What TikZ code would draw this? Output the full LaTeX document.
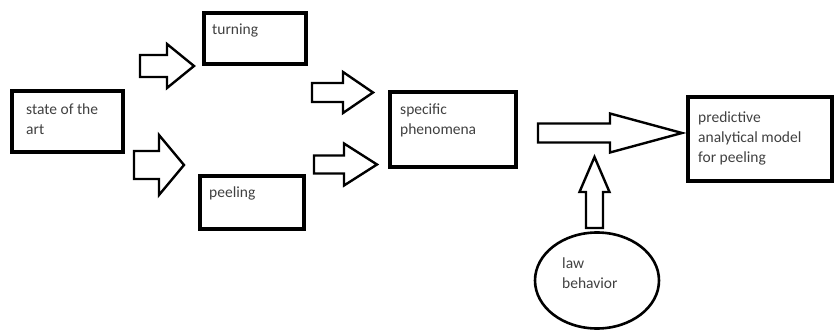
\documentclass[tikz,border=0pt]{standalone}
\usepackage{fontspec}
\setmainfont{Carlito}
\usetikzlibrary{calc,shapes.geometric}
% right-pointing block arrow: x0, xb, xt, c, t, h
\newcommand\blkR[6]{\draw[barrow] (#1,#4-#5) -- (#2,#4-#5) -- (#2,#4-#6) -- (#3,#4) -- (#2,#4+#6) -- (#2,#4+#5) -- (#1,#4+#5) -- cycle;}
% up-pointing block arrow: y0, yb, yt, c, t, h
\newcommand\blkU[6]{\draw[barrow] (#4-#5,#1) -- (#4-#5,#2) -- (#4-#6,#2) -- (#4,#3) -- (#4+#6,#2) -- (#4+#5,#2) -- (#4+#5,#1) -- cycle;}
\begin{document}
\begin{tikzpicture}[x=1pt,y=-1pt,
  box/.style={draw, line width=3.2pt, rectangle, inner sep=0pt},
  oval/.style={draw, line width=2.6pt, ellipse, inner sep=0pt},
  barrow/.style={draw, line width=2.4pt, line join=miter},
  lbl/.style={font=\fontsize{15.5}{20}\selectfont, text=black!75, align=left, anchor=base west, inner sep=0pt}]
\useasboundingbox (0,0) rectangle (835,331);
% boxes
\node[box, minimum width=111pt, minimum height=61pt] (sota) at (67.5,121.5) {};
\node[box, minimum width=102pt, minimum height=51pt] (turn) at (255,38.5) {};
\node[box, minimum width=104pt, minimum height=53pt] (peel) at (252,202.5) {};
\node[box, minimum width=126pt, minimum height=75pt] (spec) at (453,129.5) {};
\node[box, minimum width=144pt, minimum height=84pt] (pred) at (760,139) {};
\node[oval, minimum width=124pt, minimum height=96pt] (law) at (597,280.5) {};
% labels (base = baseline of last line)
\node[lbl] (tsota) at (26,135) {state of the\\art};
\node[lbl] (tturn) at (212,35) {turning};
\node[lbl] (tpeel) at (209,198) {peeling};
\node[lbl] (tspec) at (400,135) {specific\\phenomena};
\node[lbl] (tpred) at (698,163) {predictive\\analytical model\\for peeling};
\node[lbl] (tlaw) at (562,288) {law\\behavior};
% block arrows
\blkR{140}{167}{194}{66}{11}{22}
\blkR{134}{159}{184}{165}{14}{30}
\blkR{312}{343}{373}{92.5}{9.5}{20.5}
\blkR{314}{344}{377}{164.5}{9}{21}
\blkR{538}{610}{682}{133}{9.5}{19.5}
\blkU{228}{192}{157}{594.5}{8.5}{15}
\end{tikzpicture}
\end{document}
